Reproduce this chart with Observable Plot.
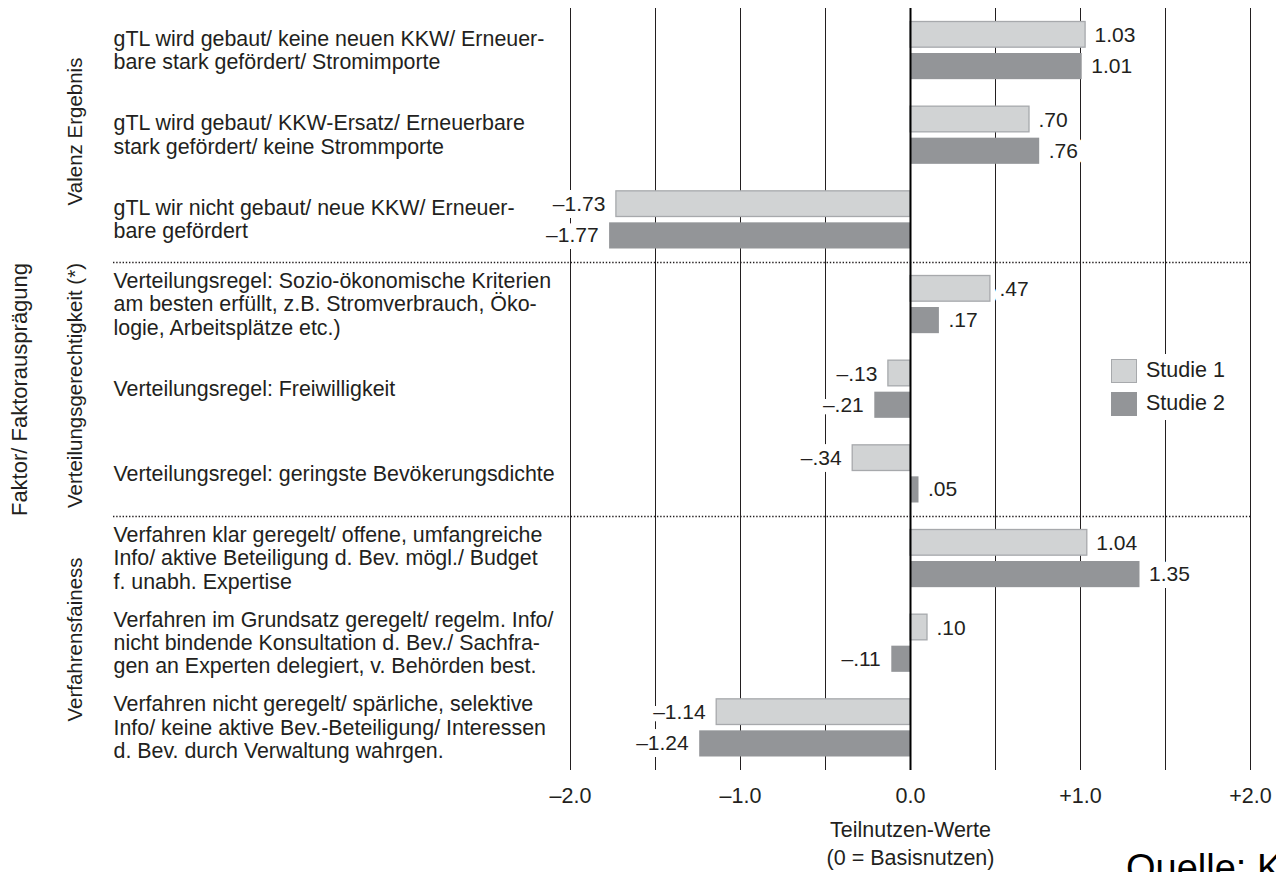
<!DOCTYPE html>
<html><head><meta charset="utf-8">
<script src="https://cdn.jsdelivr.net/npm/d3@7"></script>
<script src="https://cdn.jsdelivr.net/npm/@observablehq/plot@0.6"></script>
<style>
html,body{margin:0;padding:0;background:#fff;}
#wrap{position:relative;width:1276px;height:872px;overflow:hidden;font-family:"Liberation Sans",Arial,Helvetica,sans-serif;color:#231f20;}
#legend{position:absolute;left:1100px;top:354px;width:142px;background:#fff;padding:0;}
.lrow{display:flex;align-items:center;height:33px;padding-left:11px;font-size:21.5px;}
.sw{width:26px;height:24px;box-sizing:border-box;margin-right:9px;}
#quelle{position:absolute;left:1126px;top:849px;font-size:38px;line-height:1;white-space:nowrap;color:#000;}
</style></head><body><div id="wrap"></div>
<script>
// ---- data ----
const categories = [
  "gTL wird gebaut/ keine neuen KKW/ Erneuer-\nbare stark gefördert/ Stromimporte",
  "gTL wird gebaut/ KKW-Ersatz/ Erneuerbare\nstark gefördert/ keine Strommporte",
  "gTL wir nicht gebaut/ neue KKW/ Erneuer-\nbare gefördert",
  "Verteilungsregel: Sozio-ökonomische Kriterien\nam besten erfüllt, z.B. Stromverbrauch, Öko-\nlogie, Arbeitsplätze etc.)",
  "Verteilungsregel: Freiwilligkeit",
  "Verteilungsregel: geringste Bevökerungsdichte",
  "Verfahren klar geregelt/ offene, umfangreiche\nInfo/ aktive Beteiligung d. Bev. mögl./ Budget\nf. unabh. Expertise",
  "Verfahren im Grundsatz geregelt/ regelm. Info/\nnicht bindende Konsultation d. Bev./ Sachfra-\ngen an Experten delegiert, v. Behörden best.",
  "Verfahren nicht geregelt/ spärliche, selektive\nInfo/ keine aktive Bev.-Beteiligung/ Interessen\nd. Bev. durch Verwaltung wahrgen."
];
const groups = ["Valenz Ergebnis", "Verteilungsgerechtigkeit (*)", "Verfahrensfainess"];
const groupOfCategory = [0, 0, 0, 1, 1, 1, 2, 2, 2];
const studies = ["Studie 1", "Studie 2"];
const studie1 = [1.03, 0.70, -1.73, 0.47, -0.13, -0.34, 1.04, 0.10, -1.14];
const studie2 = [1.01, 0.76, -1.77, 0.17, -0.21, 0.05, 1.35, -0.11, -1.24];
const xTicks = [-2, -1, 0, 1, 2];
const xGrid = [-2, -1.5, -1, -0.5, 0, 0.5, 1, 1.5, 2];
const yTitle = "Faktor/ Faktorausprägung";
const xTitle = "Teilnutzen-Werte\n(0 = Basisnutzen)";
const sourceText = "Quelle: K";
const fills = ["#d1d3d4", "#939598"];
const strokes = ["#a7a9ac", "none"];

// ---- build ----
const ink = "#231f20";
const rows = [];
categories.forEach((c, i) => {
  rows.push({cat: c, idx: i, s: 0, value: studie1[i]});
  rows.push({cat: c, idx: i, s: 1, value: studie2[i]});
});
const catRows = categories.map((c, i) => ({label: c, idx: i}));
const seps = [];
for (let i = 1; i < groupOfCategory.length; i++) if (groupOfCategory[i] !== groupOfCategory[i-1]) seps.push(i);
const groupRows = groups.map((g, k) => {
  const idxs = groupOfCategory.map((gg, i) => gg === k ? i : null).filter(v => v !== null);
  return {label: g, pos: d3.mean(idxs) + 0.5};
});
const fmtVal = v => {
  const a = Math.abs(v).toFixed(2);
  return (v < 0 ? "\u2013" : "") + (Math.abs(v) < 1 ? a.slice(1) : a);
};
const fmtTick = v => v === 0 ? "0.0" : (v > 0 ? "+" : "\u2013") + Math.abs(v).toFixed(1);
const insets = [{insetTop: 13.5, insetBottom: 45.5}, {insetTop: 45, insetBottom: 13.5}];
const labelDy = [-15.5, 15.5];
const n = categories.length;

const valueMarks = (opts) => [
  ...[0, 1].flatMap(s => [
    Plot.text(rows.filter(d => d.s === s && d.value >= 0), {x: "value", y: d => d.idx + 0.5, dy: labelDy[s], text: d => fmtVal(d.value), textAnchor: "start", dx: 9, fontSize: 21, ...opts}),
    Plot.text(rows.filter(d => d.s === s && d.value < 0), {x: "value", y: d => d.idx + 0.5, dy: labelDy[s], text: d => fmtVal(d.value), textAnchor: "end", dx: -11, fontSize: 21, ...opts})
  ])
];

const chart = Plot.plot({
  width: 1276, height: 872,
  marginLeft: 570, marginRight: 26, marginTop: 8, marginBottom: 102,
  style: {fontFamily: "'Liberation Sans', Arial, Helvetica, sans-serif", fontSize: "21.5px", color: ink, background: "transparent", overflow: "visible"},
  x: {domain: [-2, 2], ticks: xTicks, tickFormat: fmtTick, tickSize: 0, tickPadding: 17, label: null},
  y: {type: "linear", domain: [0, n], reverse: true, axis: null},
  marks: [
    Plot.ruleX(xGrid, {y1: () => 0, y2: () => n, stroke: ink, strokeWidth: 1}),
    ...valueMarks({fill: "white", stroke: "white", strokeWidth: 14}),
    Plot.ruleY(seps, {stroke: ink, strokeWidth: 1.6, strokeDasharray: "1.4,1.8", insetLeft: -457}),
    ...[0, 1].map(s => Plot.rect(rows.filter(d => d.s === s), {x1: () => 0, x2: "value", y1: d => d.idx, y2: d => d.idx + 1, fill: fills[s], stroke: strokes[s], strokeWidth: 1.3, ...insets[s]})),
    Plot.ruleX([0], {y1: () => 0, y2: () => n, stroke: "#000", strokeWidth: 2}),
    ...valueMarks({fill: ink}),
    Plot.text(catRows, {y: d => d.idx + 0.5, text: "label", frameAnchor: "left", textAnchor: "start", dx: -457, dy: -1, lineHeight: 1.09, fontSize: 21.4, fill: ink}),
    Plot.text(groupRows, {y: "pos", text: "label", frameAnchor: "left", textAnchor: "middle", lineAnchor: "middle", dx: -495, dy: -4, rotate: -90, fontSize: 20.5, fill: ink}),
    Plot.text([yTitle], {y: () => n / 2, text: d => d, frameAnchor: "left", textAnchor: "middle", lineAnchor: "middle", dx: -551, rotate: -90, fontSize: 22, fill: ink}),
    Plot.text([xTitle], {x: () => 0, text: d => d, frameAnchor: "bottom", lineAnchor: "middle", dy: 72, lineHeight: 1.3, fontSize: 21.5, fill: ink})
  ]
});

const wrap = document.getElementById("wrap");
wrap.appendChild(chart);

const legend = document.createElement("div");
legend.id = "legend";
studies.forEach((s, i) => {
  const row = document.createElement("div");
  row.className = "lrow";
  const sw = document.createElement("div");
  sw.className = "sw";
  sw.style.background = fills[i];
  sw.style.border = strokes[i] === "none" ? "none" : "1.3px solid " + strokes[i];
  const t = document.createElement("span");
  t.textContent = s;
  row.appendChild(sw); row.appendChild(t);
  legend.appendChild(row);
});
wrap.appendChild(legend);

const q = document.createElement("div");
q.id = "quelle";
q.textContent = sourceText;
wrap.appendChild(q);
</script>
</body></html>
